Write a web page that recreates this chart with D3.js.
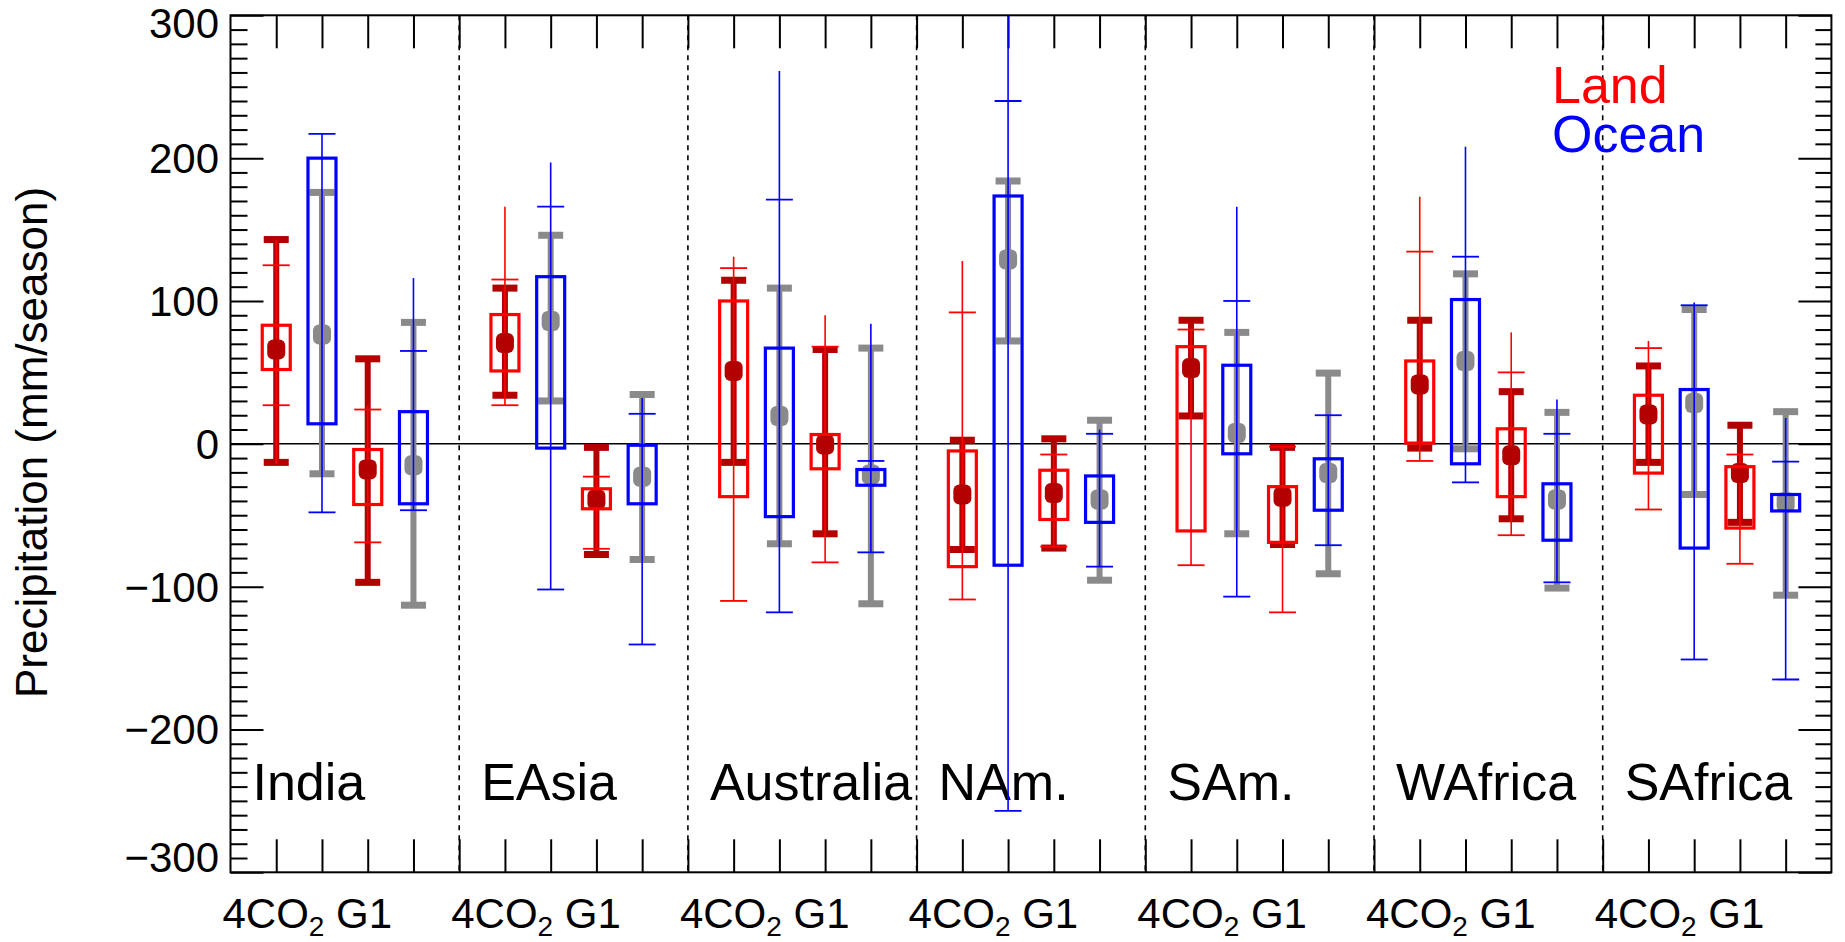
<!DOCTYPE html>
<html>
<head>
<meta charset="utf-8">
<script src="https://cdn.jsdelivr.net/npm/d3@7"></script>
<style>
  body { margin: 0; background: #fff; }
  svg { display: block; }
  text { font-family: "Liberation Sans", Arial, sans-serif; }
</style>
</head>
<body>
<div id="chart"></div>
<script>
// Regions and the four boxes per region: 4CO2 land, 4CO2 ocean, G1 land, G1 ocean
const regions = ["India", "EAsia", "Australia", "NAm.", "SAm.", "WAfrica", "SAfrica"];
const boxKinds = ["land", "ocean", "land", "ocean"];

// mean (dot), 28 values = 7 regions x 4 boxes
const meanVals = [66, 76.5, -18, -15,   70.5, 86, -39, -23,   51, 19.5, -0.5, -21.5,
                  -35.5, 129, -34.5, -39,   53, 7.5, -37, -20.5,   41.5, 58, -8, -39,
                  20.5, 28.5, -20.5, -41];
// thick dark whisker
const thickLo = [-13, -21, -97, -113,   34, 30, -77.5, -81,   -13, -70, -63, -112,
                 -74, 72, -73, -95.5,   19.5, -63, -70.5, -91,   -3, -3.5, -52.5, -101,
                 -13, -35.5, -55, -106];
const thickHi = [143, 176, 59.5, 85,   109, 146, -2.5, 34.5,   114.5, 109, 66, 67,
                 2.5, 184, 3.5, 16.5,   86.5, 78, -2.5, 49.5,   86.5, 119, 36.5, 22,
                 54.5, 94, 13, 22.5];
// thin whisker: full line extent and capped values
const thinLo = [-14, -48, -69, -46.5,   27, -102, -73.5, -140.5,   -110, -118, -83, -76,
                -109, -257, -72, -86,   -85, -107, -118, -71,   -12, -27, -64, -97,
                -46, -151, -84, -165];
const thinHi = [143, 217, 27, 116,   166, 197, -23, 32,   131, 261, 90, 84,
                128, 310, -7.5, 10,   80, 166, -2, 20,   173, 208, 78, 31,
                72, 99, -7.5, 18];
const capLo = [27, -48, -69, -46.5,   27, -102, -73.5, -140.5,   -110, -118, -83, -76,
               -109, -257, -72, -86,   -85, -107, -118, -71,   -12, -27, -64, -97,
               -46, -151, -84, -165];
const capHi = [125, 217, 24, 65,   115, 166, -23, 21,   123, 171, 68, -12,
               92, 240, -7.5, 7,   80, 100, -2, 20,   134.5, 131, 50, 7,
               67, 97, -7.5, -12.5];
// hollow box
const boxLo = [52, 14, -42.5, -42,   51, -3, -45.5, -42,   -37, -51, -17.5, -29,
               -86, -85, -53, -55,   -61, -7, -69, -46.5,   0.5, -14, -37, -67.5,
               -20.5, -73, -59, -47];
const boxHi = [83, 200, -4, 22.5,   90.5, 117, -31.5, -1,   100, 67, 6.5, -18,
               -5, 173.5, -18.5, -22.5,   68, 55, -30, -10.5,   58, 101, 10.5, -28,
               34, 38, -16, -35.5];

const yMajor = [-300, -200, -100, 0, 100, 200, 300];
const yMinor = d3.range(-300, 301, 10).filter(v => v % 100 !== 0);

const colors = {
  land:  { bright: "#ff0000", dark: "#b30000" },
  ocean: { bright: "#0000ff", dark: "#8a8a8a" }
};

const W = 1845, H = 942;
const plotLeft = 230.5, plotRight = 1831.4, plotTop = 15.3, plotBottom = 872.3;

const x = d3.scaleLinear().domain([0, 35]).range([plotLeft, plotRight]);
const y = d3.scaleLinear().domain([-300, 300]).range([plotBottom, plotTop]);

const svg = d3.select("#chart").append("svg")
  .attr("width", W).attr("height", H);

svg.append("rect").attr("width", W).attr("height", H).attr("fill", "#fff");

svg.append("clipPath").attr("id", "plot")
  .append("rect").attr("x", plotLeft).attr("y", plotTop)
  .attr("width", plotRight - plotLeft).attr("height", plotBottom - plotTop);

// axis ticks (all pointing inward)
function styleAxis(g) {
  g.select(".domain").remove();
  g.selectAll(".tick line").attr("stroke", "#000").attr("stroke-width", 2);
}
svg.append("g").attr("transform", `translate(0,${plotTop})`)
  .call(d3.axisBottom(x).tickValues(d3.range(1, 35)).tickSize(33).tickFormat(""))
  .call(styleAxis);
svg.append("g").attr("transform", `translate(0,${plotBottom})`)
  .call(d3.axisTop(x).tickValues(d3.range(1, 35)).tickSize(33).tickFormat(""))
  .call(styleAxis);
svg.append("g").attr("transform", `translate(${plotLeft},0)`)
  .call(d3.axisRight(y).tickValues(yMajor).tickSize(33).tickFormat(""))
  .call(styleAxis);
svg.append("g").attr("transform", `translate(${plotLeft},0)`)
  .call(d3.axisRight(y).tickValues(yMinor).tickSize(17).tickFormat(""))
  .call(styleAxis);
svg.append("g").attr("transform", `translate(${plotRight},0)`)
  .call(d3.axisLeft(y).tickValues(yMajor).tickSize(33).tickFormat(""))
  .call(styleAxis);
svg.append("g").attr("transform", `translate(${plotRight},0)`)
  .call(d3.axisLeft(y).tickValues(yMinor).tickSize(16).tickFormat(""))
  .call(styleAxis);

// y tick labels
svg.append("g").selectAll("text")
  .data(yMajor)
  .join("text")
  .attr("x", 219)
  .attr("y", d => Math.min(Math.max(y(d), plotTop + 8), plotBottom - 15) + 15)
  .attr("text-anchor", "end")
  .attr("font-size", 42)
  .text(d => d < 0 ? "\u2212" + Math.abs(d) : d);

// y axis title
svg.append("text")
  .attr("transform", `translate(47,442.5) rotate(-90)`)
  .attr("text-anchor", "middle")
  .attr("font-size", 44)
  .text("Precipitation (mm/season)");

// dotted region separators
svg.append("g").selectAll("line")
  .data(d3.range(1, regions.length))
  .join("line")
  .attr("x1", d => x(d * 5)).attr("x2", d => x(d * 5))
  .attr("y1", plotTop).attr("y2", plotBottom)
  .attr("stroke", "#000").attr("stroke-width", 1.6)
  .attr("stroke-dasharray", "5,5");

// zero line
svg.append("line")
  .attr("x1", plotLeft).attr("x2", plotRight)
  .attr("y1", y(0)).attr("y2", y(0))
  .attr("stroke", "#000").attr("stroke-width", 1.6);

// region names
svg.append("g").selectAll("text")
  .data(regions)
  .join("text")
  .attr("x", (d, i) => x(i * 5) + 22)
  .attr("y", 800)
  .attr("font-size", 52)
  .text(d => d);

// x labels: 4CO2 G1
const xlab = svg.append("g").selectAll("text")
  .data(regions)
  .join("text")
  .attr("x", (d, i) => x(i * 5) - 8)
  .attr("y", 928)
  .attr("font-size", 42);
xlab.append("tspan").text("4CO");
xlab.append("tspan").attr("font-size", 28).attr("dy", 8).text("2");
xlab.append("tspan").attr("dy", -8).text(" G1");

// boxes
const items = meanVals.map((m, i) => {
  const g = Math.floor(i / 4), k = i % 4;
  return {
    pos: 5 * g + k + 1, kind: boxKinds[k], mean: m,
    thickLo: thickLo[i], thickHi: thickHi[i],
    thinLo: thinLo[i], thinHi: thinHi[i],
    capLo: capLo[i], capHi: capHi[i],
    boxLo: boxLo[i], boxHi: boxHi[i]
  };
});

const plot = svg.append("g").attr("clip-path", "url(#plot)");

items.forEach(d => {
  const cx = x(d.pos);
  const c = colors[d.kind];
  const g = plot.append("g");

  // thick whisker
  g.append("line")
    .attr("x1", cx).attr("x2", cx)
    .attr("y1", y(d.thickLo)).attr("y2", y(d.thickHi))
    .attr("stroke", c.dark).attr("stroke-width", 6);
  [d.thickLo, d.thickHi].forEach(v => {
    g.append("rect")
      .attr("x", cx - 12.5).attr("y", y(v) - 3.5)
      .attr("width", 25).attr("height", 7)
      .attr("fill", c.dark);
  });

  const drawThin = () => {
    g.append("line")
      .attr("x1", cx).attr("x2", cx)
      .attr("y1", y(d.thinLo)).attr("y2", y(d.thinHi))
      .attr("stroke", c.bright).attr("stroke-width", 1.6);
    [d.capLo, d.capHi].forEach(v => {
      g.append("line")
        .attr("x1", cx - 13.5).attr("x2", cx + 13.5)
        .attr("y1", y(v)).attr("y2", y(v))
        .attr("stroke", c.bright).attr("stroke-width", 1.8);
    });
  };
  const drawDot = () => {
    g.append("rect")
      .attr("x", cx - 9).attr("y", y(d.mean) - 10)
      .attr("width", 18).attr("height", 20).attr("rx", 6)
      .attr("fill", c.dark);
  };

  if (d.kind === "land") { drawThin(); drawDot(); }
  else { drawDot(); drawThin(); }

  g.append("rect")
    .attr("x", cx - 14).attr("y", y(d.boxHi))
    .attr("width", 28).attr("height", y(d.boxLo) - y(d.boxHi))
    .attr("fill", "none")
    .attr("stroke", c.bright).attr("stroke-width", 3.2);
});

// frame
svg.append("rect")
  .attr("x", plotLeft).attr("y", plotTop)
  .attr("width", plotRight - plotLeft).attr("height", plotBottom - plotTop)
  .attr("fill", "none").attr("stroke", "#000").attr("stroke-width", 2);

// legend
svg.append("text").attr("x", 1552).attr("y", 103)
  .attr("font-size", 52).attr("fill", colors.land.bright).text("Land");
svg.append("text").attr("x", 1552).attr("y", 152)
  .attr("font-size", 52).attr("fill", colors.ocean.bright).text("Ocean");
</script>
</body>
</html>
